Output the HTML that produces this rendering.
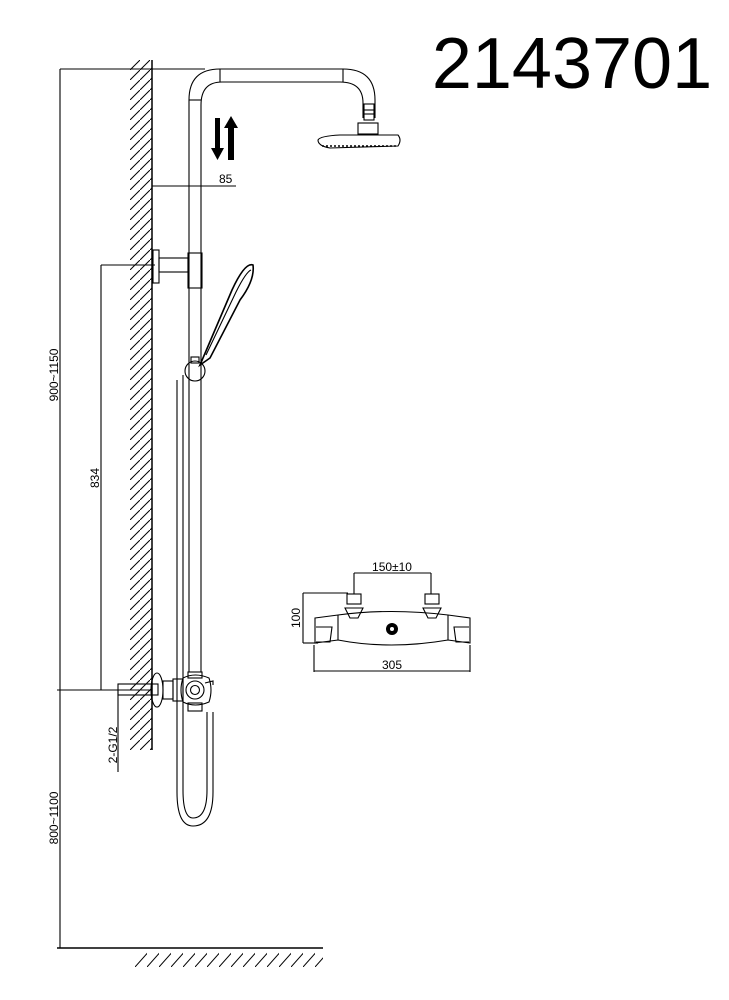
<!DOCTYPE html>
<html><head><meta charset="utf-8"><style>
html,body{margin:0;padding:0;background:#fff;}
svg{display:block;}
text{font-family:"Liberation Sans",sans-serif;fill:#000;}
</style></head><body>
<svg width="729" height="1000" viewBox="0 0 729 1000" xmlns="http://www.w3.org/2000/svg">
<defs>
<pattern id="h" width="10" height="10" patternUnits="userSpaceOnUse">
<path d="M-1 11 L11 -1" stroke="#000" stroke-width="1"/>
</pattern>
<pattern id="f" width="12" height="18" patternUnits="userSpaceOnUse" patternTransform="translate(135 949)">
<path d="M0 18 L16 0" stroke="#000" stroke-width="1"/>
</pattern>
</defs>
<text x="572" y="88" font-size="72" text-anchor="middle">2143701</text>

<!-- wall -->
<rect x="130" y="60" width="22" height="690" fill="url(#h)"/>
<line x1="152" y1="60" x2="152" y2="750" stroke="#000" stroke-width="1.5"/>
<!-- floor -->
<rect x="135" y="950" width="188" height="17" fill="url(#f)"/>
<line x1="57" y1="948" x2="323" y2="948" stroke="#000" stroke-width="1.5"/>

<g stroke="#000" stroke-width="1.1" fill="none">
<!-- dims -->
<line x1="60" y1="69" x2="205" y2="69"/>
<line x1="60" y1="69" x2="60" y2="948"/>
<line x1="152" y1="186" x2="236" y2="186"/>
<line x1="101" y1="265" x2="155" y2="265"/>
<line x1="101" y1="265" x2="101" y2="690"/>
<line x1="57" y1="690" x2="152" y2="690"/>
<line x1="118" y1="690" x2="118" y2="772"/>

<!-- riser & top pipe -->
<path d="M189 672 V100 Q189 69 220 69 H343 Q375 69 375 100 V118"/>
<path d="M201 672 V105 Q201 82 222 82 H340 Q363 82 363 103 V118"/>
<line x1="220" y1="69" x2="220" y2="82"/>
<line x1="343" y1="69" x2="343" y2="82"/>
<line x1="189" y1="100" x2="201" y2="100"/>
<!-- head connector -->
<rect x="364" y="104" width="10" height="16"/>
<line x1="364" y1="110" x2="374" y2="110"/><line x1="364" y1="114" x2="374" y2="114"/>
<rect x="358" y="123" width="20" height="11"/>
<path d="M318 140 Q320 136 340 135 L398 135 Q402 140 398 146 L330 148 Q318 146 318 140 Z"/>
<path d="M322 146 L398 146" stroke-dasharray="2 2" stroke-width="1.6"/>

<!-- bracket -->
<rect x="153" y="250" width="6" height="33"/>
<rect x="159" y="258" width="29" height="14"/>
<rect x="188" y="253" width="14" height="35"/>
<!-- hand shower -->
<path d="M200 365 L232 290 Q245 262 253 265 Q255 280 240 300 L210 358 Z" stroke-width="1.6"/>
<path d="M206 355 L236 292 Q246 272 251 270"/>
<circle cx="195" cy="371" r="10"/>
<rect x="191" y="357" width="8" height="6"/>
<!-- hose -->
<path d="M183 375 V790 Q183 818 193 818 Q207 818 207 790 V712"/>
<path d="M177 380 V792 Q177 826 193 826 Q213 826 213 792 V712"/>

<!-- bottom valve -->
<rect x="118" y="684" width="40" height="11"/>
<ellipse cx="157" cy="690" rx="6" ry="17"/>
<rect x="163" y="681" width="10" height="18"/>
<rect x="173" y="679" width="10" height="22"/>
<rect x="188" y="672" width="14" height="6"/>
<path d="M183 678 Q195 672 209 678 Q213 690 209 702 Q195 708 183 702 Q179 690 183 678 Z"/>
<circle cx="195" cy="690" r="9"/>
<circle cx="195" cy="690" r="4.5"/>
<rect x="188" y="703" width="14" height="8"/>
<path d="M205 683 L213 681 L213 685"/>
</g>
<!-- arrows -->
<path d="M215 118 H220 V148 H224 L217.5 160 L211 148 H215 Z" fill="#000"/>
<path d="M228 160 H234 V128 H238 L231 116 L224 128 H228 Z" fill="#000"/>

<text x="219" y="183" font-size="12">85</text>
<text transform="translate(99,478) rotate(-90)" font-size="12" text-anchor="middle">834</text>
<text transform="translate(58,375) rotate(-90)" font-size="12" text-anchor="middle">900~1150</text>
<text transform="translate(117,745) rotate(-90)" font-size="12" text-anchor="middle">2-G1/2</text>
<text transform="translate(58,818) rotate(-90)" font-size="12" text-anchor="middle">800~1100</text>

<!-- thermostat -->
<g stroke="#000" stroke-width="1.1" fill="none">
<line x1="354" y1="573" x2="431" y2="573"/>
<line x1="354" y1="573" x2="354" y2="594"/>
<line x1="431" y1="573" x2="431" y2="594"/>
<line x1="303" y1="593" x2="348" y2="593"/>
<line x1="303" y1="593" x2="303" y2="643"/>
<line x1="303" y1="643" x2="318" y2="643"/>
<line x1="314" y1="645" x2="314" y2="672"/>
<line x1="470" y1="645" x2="470" y2="672"/>
<line x1="314" y1="671" x2="470" y2="671"/>
<rect x="347" y="594" width="14" height="10"/>
<rect x="425" y="594" width="14" height="10"/>
<path d="M345 608 L363 608 L358 618 L350 618 Z"/>
<path d="M423 608 L441 608 L436 618 L428 618 Z"/>
<path d="M315 618 L338 615 Q390 608 448 615 L470 618 L470 643 L448 640 Q390 650 338 640 L315 643 Z"/>
<line x1="338" y1="615" x2="338" y2="640"/>
<line x1="448" y1="615" x2="448" y2="640"/>
<path d="M316 627 L332 627 L330 642 L316 642"/>
<path d="M469 627 L454 627 L456 642 L469 642"/>
</g>
<circle cx="392" cy="629" r="6" fill="#000"/>
<circle cx="392" cy="629" r="2" fill="#fff"/>
<text x="392" y="571" font-size="12" text-anchor="middle">150±10</text>
<text transform="translate(300,618) rotate(-90)" font-size="12" text-anchor="middle">100</text>
<text x="392" y="669" font-size="12" text-anchor="middle">305</text>
</svg>
</body></html>
